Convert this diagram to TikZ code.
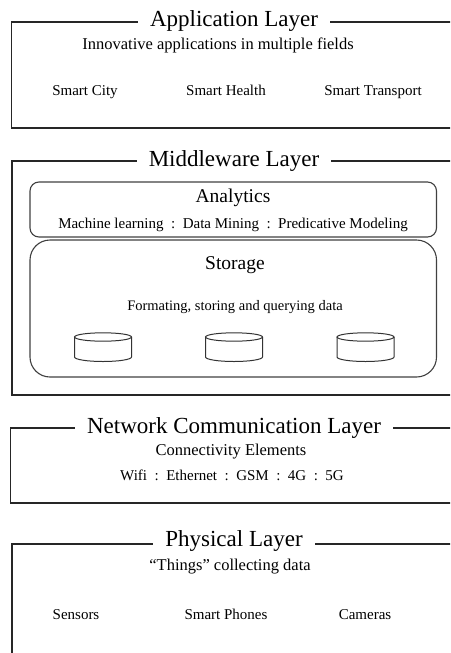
\documentclass[tikz,border=0pt]{standalone}
\usepackage{fontspec}
\setmainfont{Liberation Serif}
\begin{document}
\begin{tikzpicture}[x=1pt,y=-1pt,
  every node/.style={text depth=0pt},
  frame/.style={line width=1.8pt,draw=black!85},
  inbox/.style={draw=black!75,line width=1.1pt},
  title/.style={fill=white,inner xsep=12pt,inner ysep=4pt,text height=15.2pt,font=\fontsize{23}{27}\selectfont},
  subhead/.style={text height=12.9pt,font=\fontsize{19.5}{23}\selectfont},
  desc/.style={text height=10.9pt,font=\fontsize{16.5}{20}\selectfont},
  item/.style={text height=9.9pt,font=\fontsize{15}{18}\selectfont},
  small/.style={text height=9.6pt,font=\fontsize{14.5}{17}\selectfont},
  cyl/.style={draw=black!80,line width=1pt}]
\useasboundingbox (0,0) rectangle (450,653);
\clip (0,0) rectangle (450,653);

% Application layer
\draw[frame] (460,22) -- (11.5,22) -- (11.5,128) -- (460,128);
\node[title] (apptitle) at (234,19) {Application Layer};
\node[desc] (appdesc) at (218,44) {Innovative applications in multiple fields};
\node[item] (city) at (85,90.5) {Smart City};
\node[item] (health) at (226,90.5) {Smart Health};
\node[item] (transport) at (373,90.5) {Smart Transport};

% Middleware layer
\draw[frame] (460,161) -- (12,161) -- (12,395) -- (460,395);
\node[title] (midtitle) at (234,159) {Middleware Layer};
\draw[inbox,rounded corners=9pt] (30,182) rectangle (436.5,237);
\node[subhead] (analytics) at (233,196.5) {Analytics};
\node[item] (analyticsitems) at (233,223.5) {Machine learning\enspace:\enspace Data Mining\enspace:\enspace Predicative Modeling};
\draw[inbox,rounded corners=20pt] (30,240) rectangle (436.5,377);
\node[subhead] (storage) at (235,263) {Storage};
\node[small] (storagedesc) at (235,306) {Formating, storing and querying data};
\foreach \cx/\nm in {103/dba,234/dbb,365.5/dbc}{
  \coordinate (\nm) at (\cx,337);
  \draw[cyl] (\cx-28.5,337) -- (\cx-28.5,357) arc[start angle=180,end angle=360,x radius=28.5pt,y radius=4.5pt] -- (\cx+28.5,337);
  \draw[cyl] (\nm) ellipse[x radius=28.5pt,y radius=4.2pt];
}

% Network communication layer
\draw[frame] (460,428) -- (10.5,428) -- (10.5,503) -- (460,503);
\node[title] (nettitle) at (234,425.5) {Network Communication Layer};
\node[desc] (netdesc) at (231,450) {Connectivity Elements};
\node[item] (netitems) at (232,475.5) {Wifi\enspace:\enspace Ethernet\enspace:\enspace GSM\enspace:\enspace 4G\enspace:\enspace 5G};

% Physical layer
\draw[frame] (460,544) -- (12,544) -- (12,660);
\node[title] (phystitle) at (234,539) {Physical Layer};
\node[desc] (physdesc) at (230,565) {“Things” collecting data};
\node[item] (sensors) at (76,614.5) {Sensors};
\node[item] (phones) at (226,614.5) {Smart Phones};
\node[item] (cameras) at (365,614.5) {Cameras};
\end{tikzpicture}
\end{document}
